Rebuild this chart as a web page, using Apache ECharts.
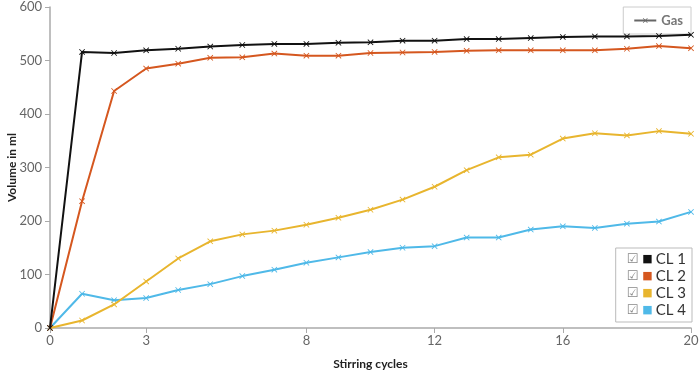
<!DOCTYPE html>
<html>
<head>
<meta charset="utf-8">
<script src="https://cdn.jsdelivr.net/npm/echarts@6/dist/echarts.min.js"></script>
<style>
  html, body { margin: 0; padding: 0; background: #fff; }
  #chart { width: 700px; height: 376px; }
</style>
</head>
<body>
<div id="chart"></div>
<script>
// stirring cycles 0..20
const cycles = [0, 1, 2, 3, 4, 5, 6, 7, 8, 9, 10, 11, 12, 13, 14, 15, 16, 17, 18, 19, 20];
const xTicks = [0, 3, 8, 12, 16, 20];

const cl1 = [0, 516, 514, 519, 522, 526, 529, 531, 531, 533, 534, 537, 537, 540, 540, 542, 544, 545, 545, 546, 548];
const cl2 = [0, 237, 443, 485, 494, 505, 506, 513, 509, 509, 514, 515, 516, 518, 519, 519, 519, 519, 522, 527, 523];
const cl3 = [0, 14, 44, 87, 130, 162, 175, 182, 193, 206, 221, 240, 264, 295, 319, 324, 354, 364, 360, 368, 363];
const cl4 = [0, 64, 52, 56, 71, 82, 97, 109, 122, 132, 142, 150, 153, 169, 169, 184, 190, 187, 195, 199, 217];

const seriesNames = ["CL 1", "CL 2", "CL 3", "CL 4"];
const seriesColors = ["#111111", "#d5571f", "#e8b52e", "#4fb9e8"];

const crossSymbol =
  "path://M1,0 L5,4 L9,0 L10,1 L6,5 L10,9 L9,10 L5,6 L1,10 L0,9 L4,5 L0,1 Z";

const FONT = "Lato";

function pairs(values) {
  return cycles.map((c, i) => [c, values[i]]);
}

const chart = echarts.init(document.getElementById("chart"));

const lineSeries = [cl1, cl2, cl3, cl4].map((vals, i) => ({
  name: seriesNames[i],
  type: "line",
  data: pairs(vals),
  symbol: crossSymbol,
  symbolSize: 6,
  showSymbol: true,
  color: seriesColors[i],
  lineStyle: { width: 2, color: seriesColors[i] },
  itemStyle: { color: seriesColors[i] },
  z: 10 - i,
}));

const rich = {
  cb: { fontFamily: "DejaVu Sans", fontSize: 13, color: "#888", padding: [0, 4, 0, 0] },
  t: { fontFamily: FONT, fontSize: 15, color: "#333" },
};
seriesColors.forEach((c, i) => {
  rich["s" + i] = { fontFamily: "DejaVu Sans", fontSize: 11, color: c, padding: [0, 3, 0, 0] };
});

const option = {
  animation: false,
  textStyle: { fontFamily: FONT },
  grid: { left: 50, right: 9, top: 7, bottom: 48, outerBoundsMode: "none" },
  legend: [
    {
      data: ["Gas"],
      right: 9,
      top: 7,
      padding: [7, 8, 7, 10],
      borderColor: "#cccccc",
      borderWidth: 1,
      itemWidth: 22,
      itemHeight: 6,
      textStyle: { fontFamily: FONT, fontSize: 13, fontWeight: "bold", color: "#777" },
      selectedMode: false,
    },
    {
      data: seriesNames,
      orient: "vertical",
      right: 8,
      bottom: 54,
      padding: [4, 6, 4, 6],
      borderColor: "#bbbbbb",
      borderWidth: 1,
      itemGap: 2,
      icon: "none",
      itemWidth: 0,
      itemHeight: 14,
      textStyle: { rich: rich },
      formatter: (name) => {
        const i = seriesNames.indexOf(name);
        return `{cb|☑}{s${i}|■}{t|${name}}`;
      },
      selectedMode: false,
    },
  ],
  xAxis: {
    type: "value",
    min: 0,
    max: 20,
    name: "Stirring cycles",
    nameLocation: "middle",
    nameGap: 30,
    nameMoveOverlap: false,
    nameTextStyle: { fontFamily: FONT, fontSize: 12, fontWeight: "bold", color: "#222" },
    axisLine: { show: true, lineStyle: { color: "#aaaaaa", width: 1.5 } },
    axisTick: { show: true, length: 5, lineStyle: { color: "#aaaaaa" }, customValues: xTicks },
    axisLabel: { color: "#666", fontSize: 13, margin: 6, customValues: xTicks },
    splitLine: { show: false },
  },
  yAxis: {
    type: "value",
    min: 0,
    max: 600,
    interval: 100,
    name: "Volume in ml",
    nameLocation: "middle",
    nameGap: 32,
    nameMoveOverlap: false,
    nameTextStyle: { fontFamily: FONT, fontSize: 12, fontWeight: "bold", color: "#222" },
    axisLine: { show: true, lineStyle: { color: "#aaaaaa", width: 1.5 } },
    axisTick: { show: true, length: 5, lineStyle: { color: "#aaaaaa" } },
    axisLabel: { color: "#666", fontSize: 13, margin: 8 },
    splitLine: { show: false },
  },
  series: [
    ...lineSeries,
    {
      name: "Gas",
      type: "line",
      data: [],
      symbol: crossSymbol,
      symbolSize: 6,
      color: "#666",
      lineStyle: { color: "#666", width: 2 },
      itemStyle: { color: "#666" },
    },
  ],
};

chart.setOption(option);
</script>
</body>
</html>
